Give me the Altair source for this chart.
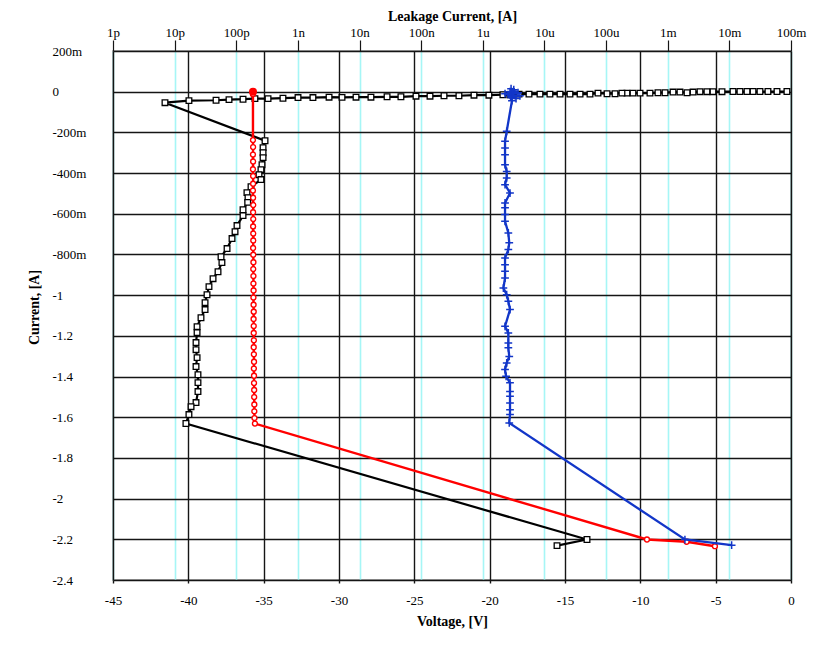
import altair as alt
import pandas as pd

# ---------------- data ----------------
black_v = [-0.27, -0.93, -1.53, -2.06, -2.52, -2.92, -3.39, -3.85, -4.58, -5.18, -5.58, -6.04,
           -6.50, -6.90, -7.37, -7.83, -8.36, -8.83, -9.36, -10.02, -10.49, -10.89, -11.22, -11.68,
           -12.21, -12.81, -13.34, -14.00, -14.67, -15.33, -16.00, -16.66, -17.39, -18.05, -18.65,
           -19.12, -20.05, -21.04, -22.04, -23.03, -23.96, -24.89, -25.89, -26.81, -27.88, -28.87,
           -29.80, -30.66, -31.73, -32.72, -33.72, -34.71, -35.58, -36.37, -37.30, -38.16, -39.96,
           -41.55,
           -34.91, -35.04, -35.04, -35.04, -35.11, -35.18, -35.31, -35.18, -35.84, -36.11, -36.04,
           -36.06, -36.37, -36.37, -36.77, -36.90, -37.10, -37.43, -37.83, -37.77, -38.03, -38.36,
           -38.63, -38.76, -38.89, -38.89, -39.16, -39.42, -39.42, -39.49, -39.49, -39.42, -39.49,
           -39.36, -39.36, -39.36, -39.49, -39.82, -39.96, -40.16, -13.54, -15.53]
black_i = [0.001, 0.001, 0.001, 0.001, 0.001, 0.001, 0.001, 0.001, 0.0, 0.0, 0.0, 0.0,
           -0.002, -0.005, -0.002, -0.002, -0.005, -0.005, -0.007, -0.007, -0.007, -0.007, -0.007,
           -0.010, -0.010, -0.007, -0.012, -0.012, -0.012, -0.012, -0.012, -0.012, -0.012, -0.012,
           -0.015, -0.015, -0.017, -0.017, -0.020, -0.020, -0.022, -0.022, -0.025, -0.025, -0.027,
           -0.027, -0.028, -0.027, -0.029, -0.029, -0.032, -0.034, -0.034, -0.037, -0.039, -0.042,
           -0.044, -0.054,
           -0.241, -0.275, -0.300, -0.324, -0.359, -0.383, -0.408, -0.432, -0.467, -0.496, -0.521,
           -0.544, -0.580, -0.609, -0.658, -0.688, -0.722, -0.771, -0.811, -0.840, -0.885, -0.919,
           -0.958, -0.998, -1.037, -1.071, -1.111, -1.155, -1.184, -1.233, -1.268, -1.307, -1.351,
           -1.391, -1.430, -1.474, -1.528, -1.548, -1.587, -1.631, -2.201, -2.231]

red_v = [-35.71, -35.71, -35.71, -35.70, -35.71, -35.70, -35.71, -35.70, -35.70, -35.71, -35.70,
         -35.69, -35.70, -35.69, -35.70, -35.69, -35.69, -35.70, -35.69, -35.68, -35.69, -35.68,
         -35.68, -35.67, -35.68, -35.67, -35.66, -35.67, -35.66, -35.66, -35.65, -35.66, -35.65,
         -35.64, -35.65, -35.64, -35.64, -35.63, -35.63, -35.62, -35.62, -35.61, -35.58,
         -9.56, -6.93, -5.05]
red_i = [0.0, -0.012, -0.238, -0.272, -0.309, -0.343, -0.381, -0.414, -0.452, -0.486, -0.521,
         -0.557, -0.592, -0.626, -0.662, -0.697, -0.731, -0.768, -0.801, -0.838, -0.872, -0.906,
         -0.943, -0.977, -1.012, -1.047, -1.081, -1.117, -1.152, -1.186, -1.222, -1.256, -1.291,
         -1.327, -1.361, -1.396, -1.432, -1.466, -1.501, -1.537, -1.571, -1.604, -1.631,
         -2.201, -2.212, -2.234]

blue_v = [-18.65, -18.40, -18.58, -18.12, -18.98, -17.99, -18.52, -18.25, -18.78, -18.52,
          -18.87,
          -18.98, -18.98, -18.98, -18.98, -18.87, -18.87, -18.98, -18.65, -18.98, -18.98, -18.98,
          -18.98, -18.76, -18.70, -18.76, -18.98, -18.98, -18.98, -18.98, -19.09, -18.87, -18.76,
          -18.65, -18.98, -18.76, -18.76, -18.76, -18.70, -18.87, -18.98, -18.91, -18.65, -18.65,
          -18.65, -18.65, -18.65, -18.65, -18.70, -7.04, -3.94]
blue_i = [0.0, 0.010, 0.015, -0.005, -0.010, -0.020, -0.025, -0.034, -0.015, -0.044,
          -0.195,
          -0.244, -0.277, -0.310, -0.359, -0.392, -0.424, -0.457, -0.498, -0.547, -0.571, -0.604,
          -0.637, -0.694, -0.743, -0.776, -0.817, -0.850, -0.883, -0.916, -0.965, -0.998, -1.030,
          -1.071, -1.153, -1.186, -1.235, -1.259, -1.301, -1.333, -1.366, -1.399, -1.431, -1.473,
          -1.497, -1.530, -1.563, -1.587, -1.628, -2.201, -2.229]

volt_ticks = [-45, -40, -35, -30, -25, -20, -15, -10, -5, 0]
cur_ticks = [0.2, 0, -0.2, -0.4, -0.6, -0.8, -1, -1.2, -1.4, -1.6, -1.8, -2, -2.2, -2.4]
leak_ticks = [1e-12, 1e-11, 1e-10, 1e-9, 1e-8, 1e-7, 1e-6, 1e-5, 1e-4, 1e-3, 1e-2, 1e-1]
leak_labels = ['1p', '10p', '100p', '1n', '10n', '100n', '1u', '10u', '100u', '1m', '10m', '100m']

# ---------------- chart ----------------
FONT = 'Liberation Serif'
GRID = '#151515'
CYAN = '#a6f6f6'


def make_df(v, i):
    return pd.DataFrame({'v': v, 'i': i, 'k': list(range(len(v)))})


xs = alt.Scale(domain=[-45, 0], nice=False, zero=False)
ys = alt.Scale(domain=[-2.4, 0.2], nice=False, zero=False)

x_axis = alt.Axis(orient='bottom', values=volt_ticks, labelExpr="'' + datum.value",
                  grid=True, gridColor=GRID, gridWidth=1.4, domain=False,
                  tickColor=GRID, tickSize=3, tickWidth=1.4, labelFlush=False,
                  labelFont=FONT, labelFontSize=13, labelColor='black', labelPadding=11,
                  title='Voltage, [V]', titleFont=FONT, titleFontSize=14,
                  titleFontWeight='bold', titleColor='black',
                  titleBaseline='middle', titleY=41)

y_label_expr = ("datum.value == 0 ? '0' : (abs(datum.value) < 0.99 ? "
                "round(datum.value * 1000) + 'm' : '' + datum.value)")
y_axis = alt.Axis(orient='left', values=cur_ticks, labelExpr=y_label_expr,
                  grid=True, gridColor=GRID, gridWidth=1.4, domain=False,
                  ticks=False, tickSize=0, labelAlign='left', labelPadding=61,
                  labelFont=FONT, labelFontSize=13, labelColor='black', labelOverlap=False,
                  title='Current, [A]', titleFont=FONT, titleFontSize=14,
                  titleFontWeight='bold', titleColor='black', titleX=-72, titleY=256)

x_enc = alt.X('v:Q', scale=xs, axis=x_axis)
y_enc = alt.Y('i:Q', scale=ys, axis=y_axis)


def series(v, i, color, shape, size, fill, pt_sw, line_w):
    df = make_df(v, i)
    base = alt.Chart(df)
    line = base.mark_line(color=color, strokeWidth=line_w).encode(x=x_enc, y=y_enc, order='k:Q')
    pts = base.mark_point(shape=shape, size=size, filled=True, fill=fill, stroke=color,
                          strokeWidth=pt_sw, opacity=1).encode(x=x_enc, y=y_enc)
    return line, pts


b_line, b_pts = series(black_v, black_i, 'black', 'square', 32, 'white', 1.3, 2.2)
r_line, r_pts = series(red_v, red_i, '#ff0000', 'circle', 24, 'white', 1.4, 2.4)
u_line, u_pts = series(blue_v, blue_i, '#1236c8',
                       'M -1 0 L 1 0 M 0 -1 L 0 1', 60, 'none', 1.5, 2.3)

red_top = alt.Chart(make_df(red_v[:1], red_i[:1])).mark_point(
    shape='circle', filled=True, color='#ff0000', size=64, opacity=1
).encode(x=x_enc, y=y_enc)

inner = alt.layer(b_line, b_pts, r_line, r_pts, red_top, u_line, u_pts)

top_label_expr = ("[" + ",".join("'%s'" % s for s in leak_labels) +
                  "][round(log(datum.value) / LN10) + 12]")
top_axis = alt.Axis(orient='top', values=leak_ticks, labelExpr=top_label_expr,
                    grid=True, gridColor=CYAN, gridWidth=1.6, domain=False,
                    tickColor=GRID, tickSize=11, tickWidth=1.2, labelFlush=False,
                    labelFont=FONT, labelFontSize=13, labelColor='black', labelPadding=1,
                    labelOverlap=False,
                    title='Leakage Current, [A]', titleFont=FONT, titleFontSize=14,
                    titleFontWeight='bold', titleColor='black',
                    titleBaseline='middle', titleY=-35)

top = alt.Chart(pd.DataFrame({'c': leak_ticks})).mark_point(opacity=0).encode(
    x=alt.X('c:Q', scale=alt.Scale(type='log', domain=[1e-12, 0.1], nice=False),
            axis=top_axis)
)

chart = alt.layer(top, inner).resolve_scale(x='independent').properties(
    width=678, height=529,
    autosize=alt.AutoSizeParams(type='none'),
    padding={'left': 105, 'top': 43, 'right': 23, 'bottom': 59},
    background='white'
).configure_view(stroke='#8c8c8c', strokeWidth=1.5)

chart.save("out.html", embed_options={"renderer": "svg", "actions": False})
